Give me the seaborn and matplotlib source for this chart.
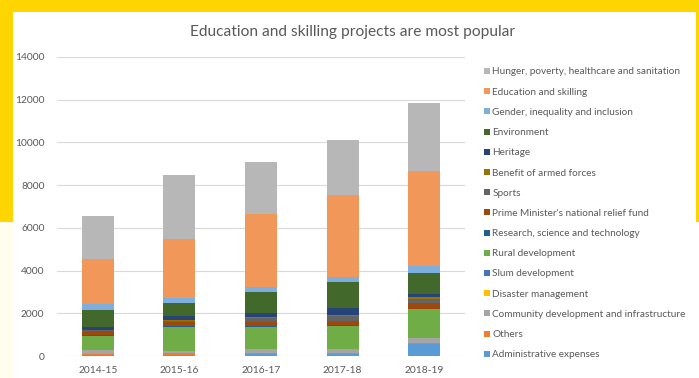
import numpy as np
import pandas as pd
import seaborn as sns
import matplotlib.pyplot as plt
from matplotlib.patches import Patch, Rectangle

years = ["2014-15", "2015-16", "2016-17", "2017-18", "2018-19"]

# Spending heads, listed from the base of each stack upward
categories = [
    "Administrative expenses",
    "Others",
    "Community development and infrastructure",
    "Disaster management",
    "Slum development",
    "Rural development",
    "Research, science and technology",
    "Prime Minister's national relief fund",
    "Sports",
    "Benefit of armed forces",
    "Heritage",
    "Environment",
    "Gender, inequality and inclusion",
    "Education and skilling",
    "Hunger, poverty, healthcare and sanitation",
]

admin = [30, 60, 110, 80, 560]
others = [60, 60, 40, 60, 30]
community = [170, 100, 170, 180, 240]
disaster = [5, 5, 10, 10, 10]
slum = [15, 15, 20, 20, 15]
rural = [650, 1130, 1030, 1070, 1325]
research = [30, 30, 40, 40, 40]
pm_relief = [200, 200, 180, 200, 240]
sports = [40, 50, 200, 200, 190]
armed_forces = [15, 20, 40, 40, 120]
heritage = [155, 180, 190, 360, 130]
environment = [800, 640, 960, 1210, 995]
gender = [250, 235, 230, 235, 310]
education = [2110, 2775, 3415, 3850, 4445]
hunger = [2010, 2990, 2430, 2545, 3200]

series = [admin, others, community, disaster, slum, rural, research, pm_relief,
          sports, armed_forces, heritage, environment, gender, education, hunger]

colors = ["#5B9BD5", "#ED7D31", "#A5A5A5", "#FFC000", "#4472C4", "#70AD47",
          "#255E91", "#9E480E", "#636363", "#997300", "#264478", "#43682B",
          "#7CAFDD", "#F1975A", "#B7B7B7"]

df = pd.DataFrame(np.array(series).T, index=years, columns=categories)
cum = df.cumsum(axis=1)

sns.set_style("white")
plt.rcParams["font.family"] = ["Lato", "DejaVu Sans"]

W, H = 699, 378
fig = plt.figure(figsize=(W / 100, H / 100), dpi=100)
fig.patch.set_facecolor("white")

# Frame decoration
yellow = "#FFD500"
fig.add_artist(Rectangle((0, 1 - 12 / H), 1, 12 / H, transform=fig.transFigure,
                         color=yellow, lw=0, zorder=0))
fig.add_artist(Rectangle((0, 1 - 222 / H), 13 / W, 222 / H, transform=fig.transFigure,
                         color=yellow, lw=0, zorder=0))
fig.add_artist(Rectangle((0, 0), 13 / W, 1 - 222 / H, transform=fig.transFigure,
                         color="#FFFDEE", lw=0, zorder=0))
fig.add_artist(Rectangle((696 / W, 1 - 222 / H), 3 / W, 222 / H, transform=fig.transFigure,
                         color=yellow, lw=0, zorder=0))

ax = fig.add_axes([57 / W, 1 - 356 / H, (465 - 57) / W, (356 - 57) / H])
ax.set_facecolor("white")

# Stacked bars: draw cumulative totals from the top layer down
for cat, col in zip(categories[::-1], colors[::-1]):
    sns.barplot(x=years, y=cum[cat].values, order=years, color=col, saturation=1,
                width=0.39, linewidth=0, errorbar=None, ax=ax, zorder=2)

ax.set_xlim(-0.5, 4.5)
ax.set_ylim(0, 14000)
ax.set_yticks(range(0, 14001, 2000))
ax.yaxis.grid(True, color="#D9D9D9", lw=0.8, zorder=0)
ax.set_axisbelow(True)
for s in ax.spines.values():
    s.set_visible(False)
ax.tick_params(axis="both", length=0, labelsize=7.4, labelcolor="#595959")
ax.tick_params(axis="y", pad=9)
ax.tick_params(axis="x", pad=7)
ax.set_xlabel("")
ax.set_ylabel("")

fig.text(353 / W, 1 - 32 / H, "Education and skilling projects are most popular",
         ha="center", va="center", fontsize=11.2, color="#595959")

handles = [Patch(facecolor=c, edgecolor="none") for c in colors[::-1]]
fig.legend(handles, categories[::-1], loc="upper left",
           bbox_to_anchor=(484 / W, 1 - 67.5 / H), frameon=False, fontsize=7.2,
           labelcolor="#595959", handlelength=0.55, handleheight=0.55,
           handletextpad=0.3, labelspacing=1.12, borderaxespad=0, borderpad=0)

fig.savefig("out.png", dpi=100)
